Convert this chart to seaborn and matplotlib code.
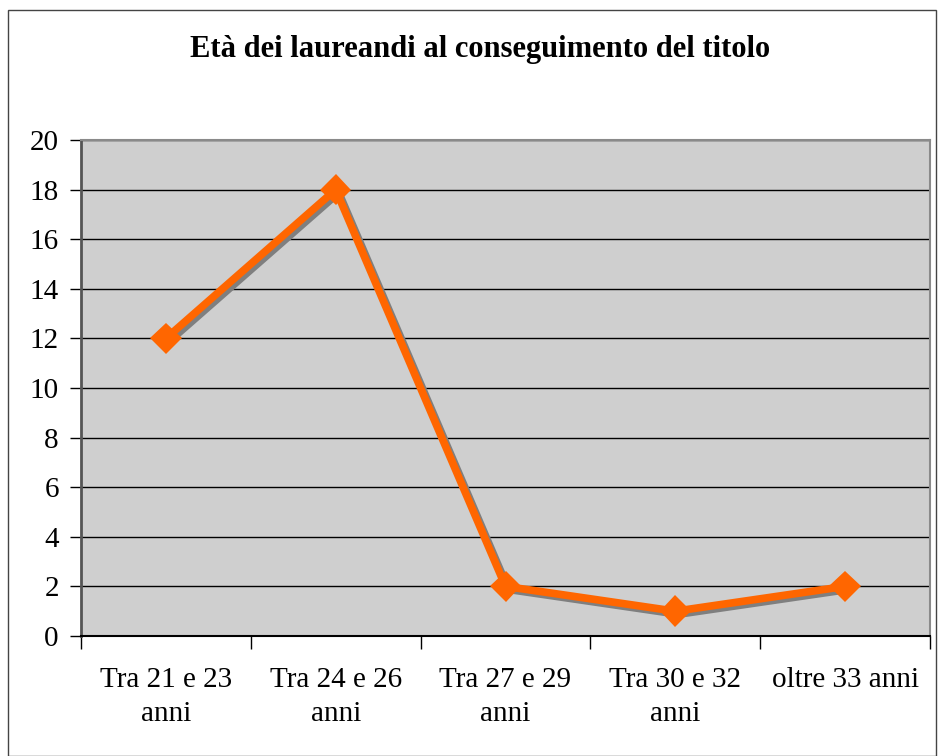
import matplotlib
matplotlib.use("Agg")
import matplotlib.pyplot as plt
import matplotlib.patheffects as pe
from matplotlib.patches import Rectangle
import seaborn as sns
import pandas as pd

# dati del grafico
categorie = ["Tra 21 e 23\nanni", "Tra 24 e 26\nanni", "Tra 27 e 29\nanni",
             "Tra 30 e 32\nanni", "oltre 33 anni"]
laureandi = [12, 18, 2, 1, 2]
y_ticks = [0, 2, 4, 6, 8, 10, 12, 14, 16, 18, 20]

df = pd.DataFrame({"pos": range(len(categorie)), "valore": laureandi})

sns.set_style("white")
plt.rcParams["font.family"] = ["Liberation Serif", "DejaVu Serif"]
plt.rcParams["text.color"] = "black"
plt.rcParams["xtick.color"] = "black"
plt.rcParams["ytick.color"] = "black"

fig = plt.figure(figsize=(9.38, 7.56), dpi=100)
W, H = 938, 756
ax = fig.add_axes([81 / W, 1 - 636 / H, (930 - 81) / W, (636 - 140) / H])
ax.set_facecolor("#cfcfcf")

# cornice esterna
fig.patches.append(Rectangle((8 / W, 0), (936 - 8) / W, 1 - 10 / H,
                             transform=fig.transFigure, fill=False,
                             edgecolor="#444444", linewidth=1))

for y in y_ticks[1:]:
    ax.axhline(y, color="black", linewidth=1, zorder=1)

sns.lineplot(data=df, x="pos", y="valore", ax=ax, color="#ff6600",
             linewidth=5.5, marker="D", markersize=16, markeredgewidth=0,
             zorder=3,
             path_effects=[pe.SimpleLineShadow(offset=(2.2, -2.2),
                                               shadow_color="#7f7f7f", alpha=1),
                           pe.Normal()])

ax.set_xlim(-0.5, len(categorie) - 0.5)
ax.set_ylim(0, 20)
ax.set_yticks(y_ticks)
ax.set_yticklabels([str(v) for v in y_ticks], fontsize=21)
ax.set_xticks([i - 0.5 for i in range(len(categorie) + 1)])
ax.set_xticklabels([])
ax.set_xticks(range(len(categorie)), minor=True)
ax.set_xticklabels(categorie, minor=True, fontsize=21, linespacing=1.4)
ax.tick_params(axis="x", which="major", direction="out", length=9,
               width=1, color="black", bottom=True)
ax.tick_params(axis="x", which="minor", length=0, pad=22)
ax.tick_params(axis="y", direction="out", length=8, width=1, color="black",
               left=True, pad=8)
ax.set_xlabel("")
ax.set_ylabel("")

for side in ["top", "right"]:
    ax.spines[side].set_color("#8a8a8a")
    ax.spines[side].set_linewidth(1.5)
ax.spines["left"].set_color("#555555")
ax.spines["left"].set_linewidth(2)
ax.spines["bottom"].set_color("black")
ax.spines["bottom"].set_linewidth(1.5)

fig.text(480 / W, 1 - 50 / H, "Età dei laureandi al conseguimento del titolo",
         ha="center", va="center", fontsize=22, fontweight="bold")

fig.savefig("out.png", dpi=100)
